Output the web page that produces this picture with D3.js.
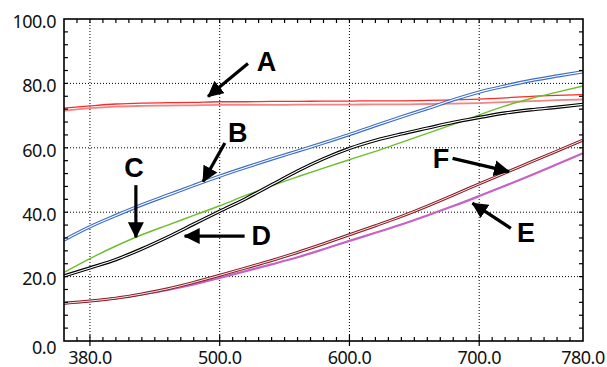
<!DOCTYPE html>
<html>
<head>
<meta charset="utf-8">
<script src="https://cdn.jsdelivr.net/npm/d3@7"></script>
<style>
  html, body { margin: 0; padding: 0; background: #fff; }
  svg { display: block; }
  .tick-label { font-family: "Noto Sans", sans-serif; font-size: 18px; fill: #111; letter-spacing: -0.5px; }
  .letter { font-family: "Liberation Sans", Arial, sans-serif; font-weight: bold; font-size: 27px; fill: #000; }
</style>
</head>
<body>
<svg id="chart" width="607" height="367"></svg>
<script>
// ---- data ----
const xs = [380, 400, 420, 440, 460, 480, 500, 520, 540, 560, 580, 600, 620, 640, 660, 680, 700, 720, 740, 760, 780];
const seriesA1 = [72.3, 73.0, 73.6, 73.9, 74.0, 74.1, 74.3, 74.3, 74.4, 74.4, 74.5, 74.5, 74.6, 74.6, 74.7, 74.9, 75.1, 75.5, 76.0, 76.3, 76.5];
const seriesA2 = [71.5, 72.3, 72.8, 73.0, 73.1, 73.2, 73.3, 73.3, 73.3, 73.4, 73.4, 73.4, 73.5, 73.5, 73.6, 73.7, 73.9, 74.2, 74.5, 74.8, 75.0];
const seriesB = [31.4, 35.5, 39.0, 42.3, 45.3, 48.3, 51.2, 53.9, 56.5, 59.0, 61.5, 64.1, 66.9, 69.6, 72.2, 74.9, 77.3, 79.2, 80.9, 82.3, 83.6];
const seriesC = [21.3, 25.6, 29.5, 33.0, 36.0, 39.0, 42.0, 45.2, 48.2, 51.0, 53.7, 56.3, 58.9, 61.7, 64.5, 67.3, 70.2, 73.0, 75.3, 77.3, 79.2];
const seriesD = [20.2, 22.7, 25.3, 28.6, 32.3, 36.3, 40.3, 44.2, 48.5, 52.8, 56.6, 59.8, 62.3, 64.3, 66.1, 67.9, 69.4, 70.8, 71.8, 72.6, 73.5];
const seriesE = [11.7, 12.4, 13.3, 14.5, 15.9, 17.6, 19.6, 21.7, 23.8, 26.0, 28.5, 31.1, 33.6, 36.2, 39.0, 41.9, 45.0, 48.2, 51.5, 54.9, 58.3];
const seriesF = [11.7, 12.4, 13.3, 14.6, 16.2, 18.2, 20.4, 22.7, 25.0, 27.5, 30.2, 33.0, 35.8, 38.7, 41.9, 45.3, 48.8, 52.2, 55.6, 59.0, 62.4];

const yTicks = [0, 20, 40, 60, 80, 100];
const yTickLabels = ["0.0", "20.0", "40.0", "60.0", "80.0", "100.0"];
const xTicks = [400, 500, 600, 700, 780];
const xTickLabels = ["380.0", "500.0", "600.0", "700.0", "780.0"];
const xGrid = [400, 500, 600, 700];

// annotations: letter, text position (data), arrow start (data), arrow tip (data)
const annoLetters = ["A", "B", "C", "D", "F", "E"];
const annoText = [[536, 86.7], [514, 64.5], [434, 53.6], [532, 32.6], [670.5, 56.4], [736, 33.4]];
const annoFrom = [[521.8, 86.2], [504, 61.5], [435.4, 48.4], [519.2, 32.6], [679.5, 56.7], [724.4, 35.0]];
const annoTo = [[491, 75.9], [487.2, 49.5], [435.4, 32.2], [473, 32.6], [723, 52.6], [694.8, 42.8]];

// ---- layout ----
const L = 64, R = 583, T = 19, B = 341;
const svg = d3.select("#chart");
const x = d3.scaleLinear().domain([380, 780]).range([L, R]);
const y = d3.scaleLinear().domain([0, 100]).range([B, T]);

// grid
const grid = svg.append("g");
grid.selectAll(".gy").data(yTicks.filter(v => v > 0 && v < 100)).enter().append("line")
  .attr("x1", L).attr("x2", R).attr("y1", d => y(d)).attr("y2", d => y(d))
  .attr("stroke", "#000").attr("stroke-width", 1).attr("stroke-dasharray", "1,2");
grid.selectAll(".gx").data(xGrid).enter().append("line")
  .attr("y1", T).attr("y2", B).attr("x1", d => x(d)).attr("x2", d => x(d))
  .attr("stroke", "#000").attr("stroke-width", 1).attr("stroke-dasharray", "1,2");

// lines
const line = d3.line().x((d, i) => x(xs[i])).y(d => y(d)).curve(d3.curveMonotoneX);
const plot = svg.append("g");
function drawDouble(data, color, w, gap) {
  plot.append("path").datum(data).attr("d", line).attr("fill", "none")
    .attr("stroke", color).attr("stroke-width", w).attr("stroke-linejoin", "round");
  plot.append("path").datum(data).attr("d", line).attr("fill", "none")
    .attr("stroke", "#fff").attr("stroke-width", gap).attr("stroke-linejoin", "round");
}
function drawSingle(data, color, w) {
  plot.append("path").datum(data).attr("d", line).attr("fill", "none")
    .attr("stroke", color).attr("stroke-width", w).attr("stroke-linejoin", "round");
}
drawSingle(seriesA2, "#f08585", 1.8);
drawSingle(seriesA1, "#ff2a2a", 1.3);
drawDouble(seriesB, "#3d6fc8", 3.4, 1.1);
drawSingle(seriesC, "#6cbf2c", 1.4);
drawDouble(seriesD, "#000", 3.4, 1.1);
drawSingle(seriesE, "#c562c5", 2.2);
drawDouble(seriesF, "#8b1c24", 3.0, 0.9);

// axes frame
const ax = svg.append("g");
ax.append("rect").attr("x", L).attr("y", T).attr("width", R - L).attr("height", B - T)
  .attr("fill", "none").attr("stroke", "#000").attr("stroke-width", 1.6);

// minor ticks
const xMinor = d3.range(390, 780, 10);
ax.selectAll(".xb").data(xMinor).enter().append("line")
  .attr("x1", d => x(d)).attr("x2", d => x(d))
  .attr("y1", d => xGrid.includes(d) ? B + 5 : B).attr("y2", d => xGrid.includes(d) ? B - 6 : B - 4)
  .attr("stroke", "#000").attr("stroke-width", 1.2);
ax.selectAll(".xt").data(xMinor).enter().append("line")
  .attr("x1", d => x(d)).attr("x2", d => x(d)).attr("y1", T).attr("y2", T + 4)
  .attr("stroke", "#000").attr("stroke-width", 1.2);
const yMinor = d3.range(4, 100, 4);
ax.selectAll(".yl").data(yMinor).enter().append("line")
  .attr("x1", L).attr("x2", L + 4).attr("y1", d => y(d)).attr("y2", d => y(d))
  .attr("stroke", "#000").attr("stroke-width", 1.2);
ax.selectAll(".yr").data(yMinor).enter().append("line")
  .attr("x1", R - 4).attr("x2", R).attr("y1", d => y(d)).attr("y2", d => y(d))
  .attr("stroke", "#000").attr("stroke-width", 1.2);

// tick labels
ax.selectAll(".yl-t").data(yTicks).enter().append("text")
  .attr("class", "tick-label")
  .attr("x", 56).attr("y", d => y(d) + (d === 0 ? 6 : 1.8))
  .attr("text-anchor", "end").attr("dominant-baseline", "central")
  .text((d, i) => yTickLabels[i]);
ax.selectAll(".xl-t").data(xTicks).enter().append("text")
  .attr("class", "tick-label")
  .attr("x", d => x(d)).attr("y", 363.5)
  .attr("text-anchor", "middle")
  .text((d, i) => xTickLabels[i]);

// annotations
const defs = svg.append("defs");
defs.append("marker").attr("id", "ah").attr("viewBox", "0 0 16 16")
  .attr("refX", 15).attr("refY", 8).attr("markerWidth", 16).attr("markerHeight", 16)
  .attr("markerUnits", "userSpaceOnUse").attr("orient", "auto")
  .append("path").attr("d", "M0,0 L16,8 L0,16 Z").attr("fill", "#000");
const an = svg.append("g");
annoLetters.forEach((t, i) => {
  an.append("line")
    .attr("x1", x(annoFrom[i][0])).attr("y1", y(annoFrom[i][1]))
    .attr("x2", x(annoTo[i][0])).attr("y2", y(annoTo[i][1]))
    .attr("stroke", "#000").attr("stroke-width", 3.2).attr("marker-end", "url(#ah)");
  an.append("text").attr("class", "letter")
    .attr("x", x(annoText[i][0])).attr("y", y(annoText[i][1]))
    .attr("text-anchor", "middle").attr("dominant-baseline", "central")
    .text(t);
});
</script>
</body>
</html>
